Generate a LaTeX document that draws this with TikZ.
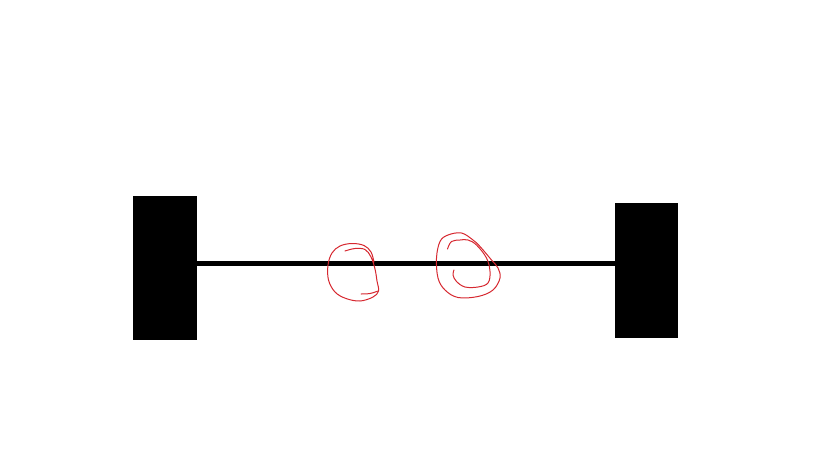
\documentclass[tikz,border=0pt]{standalone}
\usepackage{tikz}
\usetikzlibrary{positioning}
\definecolor{penred}{RGB}{214,40,48}

\begin{document}
\begin{tikzpicture}[x=1pt, y=-1pt, plate/.style={draw=none, fill=black, inner sep=0pt, outer sep=0pt}, bar/.style={line width=4.5pt}, scribble/.style={penred, line width=1pt, line cap=round, line join=round}]
	\useasboundingbox (0,0) rectangle (819,460);
	\draw (165.0, 268.0)node[plate, minimum width=64pt, minimum height=144pt](left){};
	\draw (646.5, 270.5)node[plate, minimum width=63pt, minimum height=135pt](right){};
	\coordinate (axis) at (400, 263.5);
	\draw[bar] (left.east |- axis) -- (right.west |- axis);
	% first ring
	\draw[scribble] plot[smooth, tension=0.6] coordinates {(345,251) (355,248.5) (365,249.5) (371,257) (375,269) (377,281) (378.5,291) (373,297) (360,301) (346,298.5) (335,292) (328.5,280) (328,265) (332,253) (340,246) (352,243.5) (364,245.5) (371,252) (374,262)};
	\draw[scribble] plot[smooth, tension=0.6] coordinates {(361,294) (370,293.5) (378,291)};
	% second ring
	\draw[scribble] plot[smooth, tension=0.6] coordinates {(447.5,249) (451.5,241.5) (460,240) (468,240) (476.5,245) (486.5,258) (490,271.5) (488,283) (478,287) (465,287) (456.5,281.5) (453,275) (454,270)};
	\draw[scribble] plot[smooth cycle, tension=0.6] coordinates {(473,240) (461.5,233) (448,235) (440,241.5) (436.5,258) (438,278) (445,290) (458,297.5) (478,296.5) (493,290) (500,278) (498,268) (491.5,260) (480,246.5)};
	\end{tikzpicture}
\end{document}
